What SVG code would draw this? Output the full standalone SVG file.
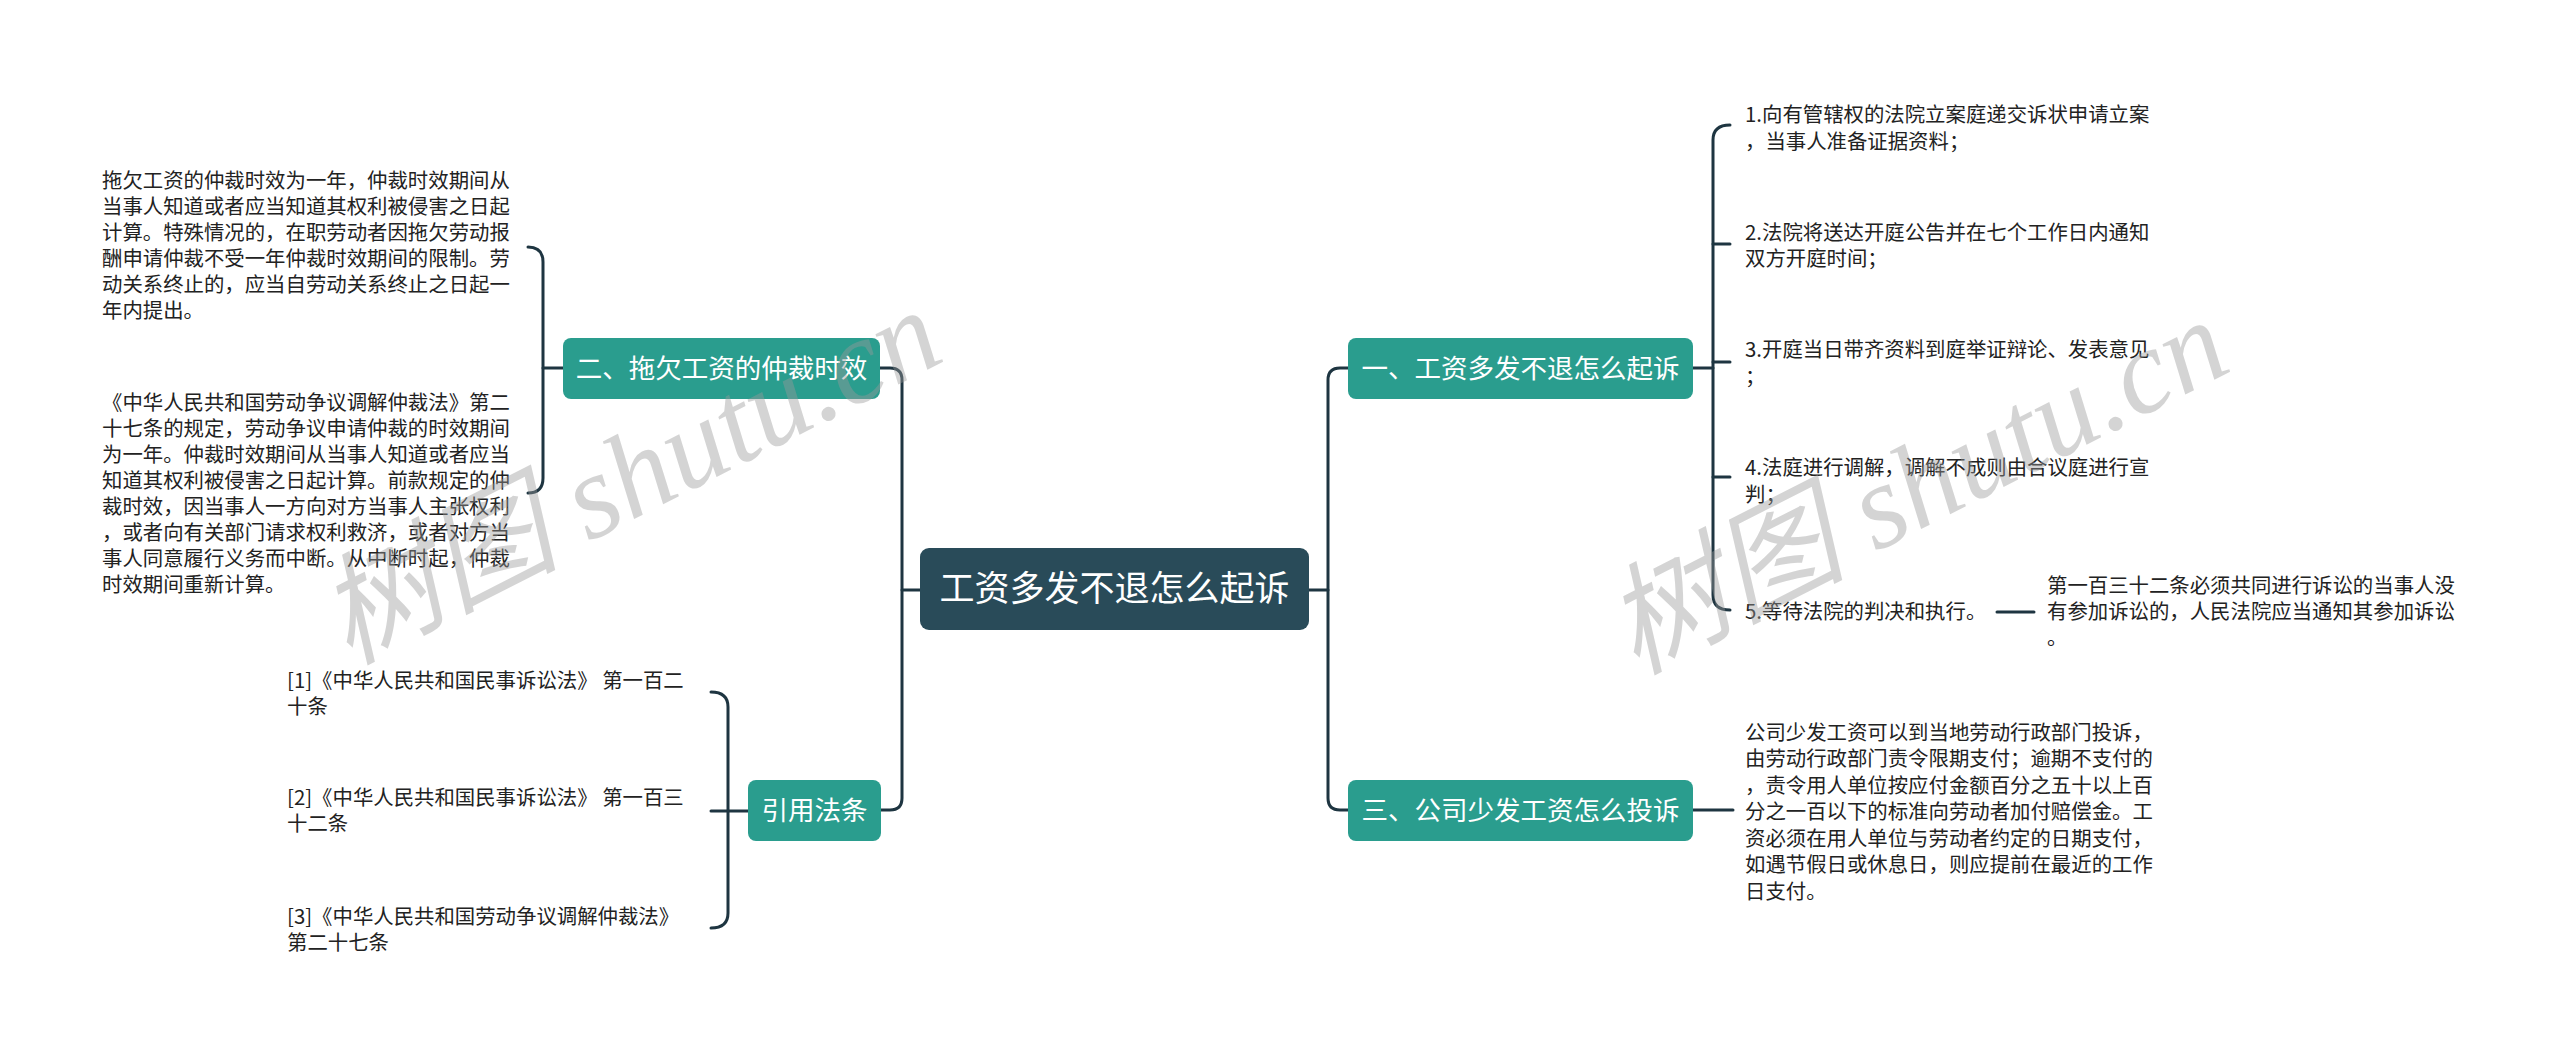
<svg xmlns="http://www.w3.org/2000/svg" width="2560" height="1055" viewBox="0 0 2560 1055">
<style>
.bg{fill:#ffffff}
.line{fill:none;stroke:#1e3541;stroke-width:3;stroke-linecap:round}
.box{fill:#2a9d8e}
.root{fill:#294b59}
.bt{font-family:"Noto Sans CJK SC","Noto Sans",sans-serif;font-size:26.5px;fill:#ffffff;text-anchor:middle}
.rt{font-family:"Noto Sans CJK SC","Noto Sans",sans-serif;font-size:35px;fill:#ffffff;text-anchor:middle}
.tx{font-family:"Noto Sans CJK SC","Noto Sans",sans-serif;font-size:20.4px;fill:#222222}
.wm{font-family:"Liberation Serif","Noto Sans CJK SC",serif;font-size:120px;font-style:italic;fill:#9a9a9a;opacity:0.42}
</style>
<rect class="bg" x="0" y="0" width="2560" height="1055"/>
<g id="connectors">
<path class="line" d="M920 590 L902 590"/>
<path class="line" d="M880 368 L890 368 Q902 368 902 380 L902 798 Q902 810 890 810 L881 810"/>
<path class="line" d="M1309 590 L1328 590"/>
<path class="line" d="M1348 368 L1340 368 Q1328 368 1328 380 L1328 798 Q1328 810 1340 810 L1348 810"/>
<path class="line" d="M563 368 L543 368"/>
<path class="line" d="M528 247 Q543 247 543 262 L543 478 Q543 493 528 493"/>
<path class="line" d="M748 811 L711 811"/>
<path class="line" d="M711 692 Q728 692 728 707 L728 913 Q728 928 711 928"/>
<path class="line" d="M1693 368 L1713 368"/>
<path class="line" d="M1730 125 Q1713 125 1713 140 L1713 595 Q1713 610 1730 610"/>
<path class="line" d="M1713 244 L1730 244"/>
<path class="line" d="M1713 362 L1730 362"/>
<path class="line" d="M1713 477 L1730 477"/>
<path class="line" d="M1693 810 L1733 810"/>
<path class="line" d="M1997 612 L2034 612"/>
</g>
<g id="root">
<rect class="root" x="920" y="548" width="389" height="82" rx="9"/>
<text class="rt" x="1114.5" y="601">工资多发不退怎么起诉</text>
</g>
<g id="n2">
<rect class="box" x="563" y="338" width="317" height="61" rx="8"/>
<text class="bt" x="721.5" y="378">二、拖欠工资的仲裁时效</text>
</g>
<g id="n2a">
<text class="tx" x="102" y="188">拖欠工资的仲裁时效为一年，仲裁时效期间从</text>
<text class="tx" x="102" y="214">当事人知道或者应当知道其权利被侵害之日起</text>
<text class="tx" x="102" y="240">计算。特殊情况的，在职劳动者因拖欠劳动报</text>
<text class="tx" x="102" y="266">酬申请仲裁不受一年仲裁时效期间的限制。劳</text>
<text class="tx" x="102" y="292">动关系终止的，应当自劳动关系终止之日起一</text>
<text class="tx" x="102" y="318">年内提出。</text>
</g>
<g id="n2b">
<text class="tx" x="102" y="410">《中华人民共和国劳动争议调解仲裁法》第二</text>
<text class="tx" x="102" y="436">十七条的规定，劳动争议申请仲裁的时效期间</text>
<text class="tx" x="102" y="462">为一年。仲裁时效期间从当事人知道或者应当</text>
<text class="tx" x="102" y="488">知道其权利被侵害之日起计算。前款规定的仲</text>
<text class="tx" x="102" y="514">裁时效，因当事人一方向对方当事人主张权利</text>
<text class="tx" x="102" y="540">，或者向有关部门请求权利救济，或者对方当</text>
<text class="tx" x="102" y="566">事人同意履行义务而中断。从中断时起，仲裁</text>
<text class="tx" x="102" y="592">时效期间重新计算。</text>
</g>
<g id="n4">
<rect class="box" x="748" y="780" width="133" height="61" rx="8"/>
<text class="bt" x="814.5" y="820">引用法条</text>
</g>
<g id="n4a">
<text class="tx" x="287" y="688">[1]《中华人民共和国民事诉讼法》 第一百二</text>
<text class="tx" x="287" y="714">十条</text>
</g>
<g id="n4b">
<text class="tx" x="287" y="805">[2]《中华人民共和国民事诉讼法》 第一百三</text>
<text class="tx" x="287" y="831">十二条</text>
</g>
<g id="n4c">
<text class="tx" x="287" y="924">[3]《中华人民共和国劳动争议调解仲裁法》</text>
<text class="tx" x="287" y="950">第二十七条</text>
</g>
<g id="n1">
<rect class="box" x="1348" y="338" width="345" height="61" rx="8"/>
<text class="bt" x="1520.5" y="378">一、工资多发不退怎么起诉</text>
</g>
<g id="n1a">
<text class="tx" x="1745" y="122">1.向有管辖权的法院立案庭递交诉状申请立案</text>
<text class="tx" x="1745" y="149">，当事人准备证据资料；</text>
</g>
<g id="n1b">
<text class="tx" x="1745" y="240">2.法院将送达开庭公告并在七个工作日内通知</text>
<text class="tx" x="1745" y="266">双方开庭时间；</text>
</g>
<g id="n1c">
<text class="tx" x="1745" y="357">3.开庭当日带齐资料到庭举证辩论、发表意见</text>
<text class="tx" x="1745" y="384">；</text>
</g>
<g id="n1d">
<text class="tx" x="1745" y="475">4.法庭进行调解，调解不成则由合议庭进行宣</text>
<text class="tx" x="1745" y="502">判；</text>
</g>
<g id="n1e">
<text class="tx" x="1745" y="619">5.等待法院的判决和执行。</text>
</g>
<g id="n1e1">
<text class="tx" x="2047" y="593">第一百三十二条必须共同进行诉讼的当事人没</text>
<text class="tx" x="2047" y="619">有参加诉讼的，人民法院应当通知其参加诉讼</text>
<text class="tx" x="2047" y="645">。</text>
</g>
<g id="n3">
<rect class="box" x="1348" y="780" width="345" height="61" rx="8"/>
<text class="bt" x="1520.5" y="820">三、公司少发工资怎么投诉</text>
</g>
<g id="n3a">
<text class="tx" x="1745" y="740">公司少发工资可以到当地劳动行政部门投诉，</text>
<text class="tx" x="1745" y="766">由劳动行政部门责令限期支付；逾期不支付的</text>
<text class="tx" x="1745" y="793">，责令用人单位按应付金额百分之五十以上百</text>
<text class="tx" x="1745" y="819">分之一百以下的标准向劳动者加付赔偿金。工</text>
<text class="tx" x="1745" y="846">资必须在用人单位与劳动者约定的日期支付，</text>
<text class="tx" x="1745" y="872">如遇节假日或休息日，则应提前在最近的工作</text>
<text class="tx" x="1745" y="899">日支付。</text>
</g>
<g id="watermarks">
<text class="wm" x="648" y="512" text-anchor="middle" transform="rotate(-27 648 512)">树图 shutu.cn</text>
<text class="wm" x="1935" y="522" text-anchor="middle" transform="rotate(-27 1935 522)">树图 shutu.cn</text>
</g>
</svg>
